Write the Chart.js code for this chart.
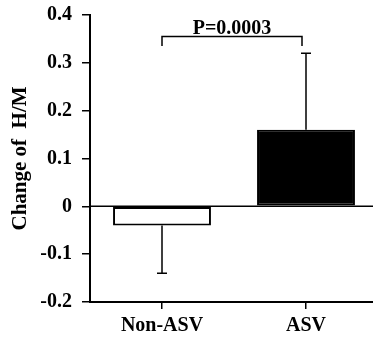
<!DOCTYPE html>
<html><head><meta charset="utf-8">
<script src="https://cdn.jsdelivr.net/npm/chart.js@4/dist/chart.umd.min.js"></script>
<style>html,body{margin:0;padding:0;background:#fff;overflow:hidden;width:373px;height:338px}canvas{display:block}</style>
</head><body>
<canvas id="c" width="378" height="338"></canvas>
<script>
const categories = ["Non-ASV", "ASV"];
const means = [-0.04, 0.16];
const errors = [0.10, 0.16];
const barFills = ["#ffffff", "#000000"];
const yTicks = [-0.2, -0.1, 0, 0.1, 0.2, 0.3, 0.4];
const yTitle = "Change of  H/M";
const pLabel = "P=0.0003";
const bracketY = 0.355, bracketDrop = 0.02;

const FONT = "'Liberation Serif', 'Times New Roman', serif";

const extras = {
  id: 'extras',
  beforeDatasetsDraw(chart) {
    const {ctx, chartArea, scales: {y}} = chart;
    ctx.save();
    ctx.strokeStyle = '#000';
    ctx.lineWidth = 1.5;
    const y0 = y.getPixelForValue(0);
    ctx.beginPath(); ctx.moveTo(chartArea.left, y0); ctx.lineTo(chartArea.right, y0); ctx.stroke();
    ctx.restore();
  },
  afterDatasetsDraw(chart) {
    const {ctx, scales: {x, y}} = chart;
    ctx.save();
    ctx.strokeStyle = '#000';
    ctx.lineWidth = 1.5;
    means.forEach((m, i) => {
      const cx = x.getPixelForValue(i);
      const end = m < 0 ? m - errors[i] : m + errors[i];
      const ym = y.getPixelForValue(m), ye = y.getPixelForValue(end);
      ctx.beginPath();
      ctx.moveTo(cx, ym); ctx.lineTo(cx, ye);
      ctx.moveTo(cx - 5, ye); ctx.lineTo(cx + 5, ye);
      ctx.stroke();
    });
    // bracket
    const xa = x.getPixelForValue(0), xb = x.getPixelForValue(1) - 4;
    const yb = y.getPixelForValue(bracketY), yd = y.getPixelForValue(bracketY - bracketDrop);
    ctx.beginPath();
    ctx.moveTo(xa, yd); ctx.lineTo(xa, yb); ctx.lineTo(xb, yb); ctx.lineTo(xb, yd);
    ctx.stroke();
    ctx.fillStyle = '#000';
    ctx.font = "bold 20px " + FONT;
    ctx.textAlign = 'center';
    ctx.textBaseline = 'alphabetic';
    ctx.fillText(pLabel, (xa + xb) / 2, yb - 3);
    ctx.restore();
  }
};

new Chart(document.getElementById('c'), {
  type: 'bar',
  data: {
    labels: categories,
    datasets: [{
      data: means,
      backgroundColor: barFills,
      borderColor: '#000',
      borderWidth: 2,
      borderSkipped: false,
      barPercentage: 0.68,
      categoryPercentage: 1.0
    }]
  },
  options: {
    responsive: false,
    animation: false,
    layout: {padding: {top: 15, right: 0, left: 0, bottom: 0}},
    plugins: {legend: {display: false}, tooltip: {enabled: false}},
    scales: {
      x: {
        offset: true,
        grid: {drawOnChartArea: false, drawTicks: true, tickLength: 7, color: '#000', lineWidth: 1.5, offset: false},
        border: {display: true, color: '#000', width: 2},
        ticks: {color: '#000', font: {family: FONT, weight: 'bold', size: 20}, padding: 5},
        afterFit(s) { s.height = 36; s.paddingLeft = 0; s.paddingRight = 0; }
      },
      y: {
        min: -0.2, max: 0.4,
        afterBuildTicks(s) { s.ticks = yTicks.map(v => ({value: v})); },
        grid: {drawOnChartArea: false, drawTicks: true, tickLength: 8, color: '#000', lineWidth: 1.5},
        border: {display: true, color: '#000', width: 2},
        ticks: {color: '#000', font: {family: FONT, weight: 'bold', size: 20}, padding: 10,
          callback: v => (v === 0 ? '0' : String(Math.round(v * 10) / 10))},
        title: {display: true, text: yTitle, color: '#000', font: {family: FONT, weight: 'bold', size: 21}, padding: {top: 8, bottom: 0}},
        afterFit(s) { s.width = 90; s.paddingTop = 0; s.paddingBottom = 0; }
      }
    }
  },
  plugins: [extras]
});
</script>
</body></html>
